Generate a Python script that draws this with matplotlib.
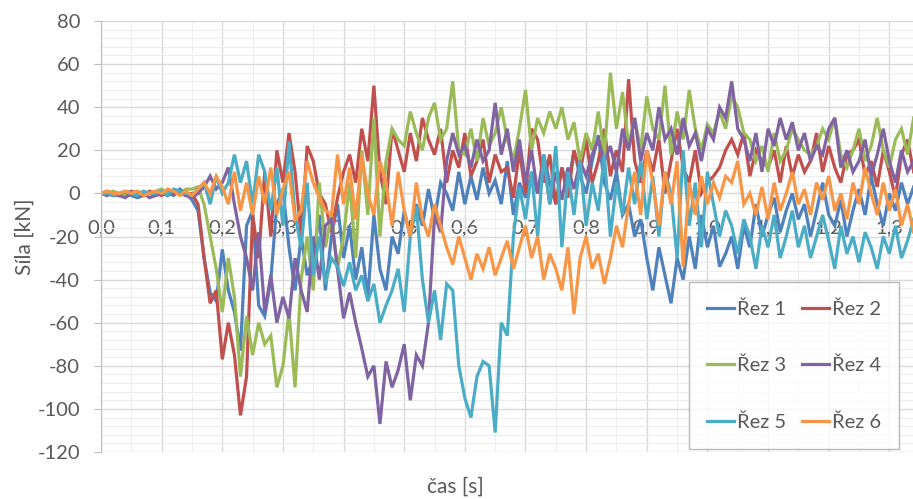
import numpy as np
import matplotlib
matplotlib.use('Agg')
import matplotlib.pyplot as plt
from matplotlib.ticker import MultipleLocator, FuncFormatter

plt.rcParams['font.family'] = ['Lato', 'DejaVu Sans']

# time step 0.01 s
cas = np.round(np.arange(135) * 0.01, 2)

rez1 = [0, 0, -1, -1, 0, -1, -2, -1, 0, -1, 1, 0, -1, 2, 0,
        -3, -8, -30, -46, -50, -26, -45, -55, -73, -15, -8, -52, -57, -40, -5,
        2, -25, -45, -20, -38, -30, -10, -45, -20, -5, -30, -15, -40, -25, -48,
        -10, -35, -45, -20, -28, -8, -20, -5, -15, 2, -12, 5, 0, -8, 10,
        -5, 8, -3, 12, 0, 6, -5, 15, -10, 5, -2, 10, 0, 18, 5,
        -5, 12, 3, 20, 8, 0, 15, 27, 5, -3, 10, -10, -5, -20, -12,
        -30, -45, -25, -38, -51, -30, -40, -20, -35, -10, -25, -15, -34, -28, -20,
        -35, -15, -25, -5, -20, -10, -2, -18, -8, 0, -12, -5, -20, -8, 5,
        -10, -15, -3, -20, -8, 2, -10, 8, -5, -15, 0, -8, 5, -5, 3]

rez2 = [0, 1, 0, -1, 0, 1, 0, -1, 1, 0, -1, 1, 0, 1, -1,
        0, -5, -30, -51, -45, -77, -60, -75, -103, -85, -10, -30, 10, -20, 20,
        5, 28, 10, -20, 22, 15, 0, -5, -18, -2, 10, 18, 5, 30, 15,
        50, 10, -5, 30, 20, 10, 28, 15, 35, 25, 18, 30, 5, 20, 12,
        28, 8, 15, 25, 5, 18, 10, 12, -2, 20, 0, 30, 25, 5, 18,
        -5, 12, -2, 20, 10, 25, 5, 15, 30, 8, 20, 10, 53, 15, 5,
        20, 10, 25, 0, 15, 30, 12, 5, 20, 0, 5, 8, 12, 20, 25,
        18, 28, 8, 20, 15, 12, 20, 5, 22, 8, 18, 10, 15, 28, 10,
        22, 12, 5, 18, 20, 25, 8, 15, 3, 20, 10, -2, 18, 25, 10]

rez3 = [0, 0, 1, 0, -1, 0, 1, 0, 0, 1, 2, 0, 1, 0, 2,
        2, 3, -5, -20, -35, -55, -30, -48, -85, -57, -75, -60, -70, -66, -90,
        -80, -55, -90, -40, -20, -45, 5, -25, -10, -35, -20, 5, -30, 20, -10,
        35, -20, 15, 30, 25, 22, 38, 28, 20, 35, 42, 25, 30, 52, 20,
        18, 30, 15, 35, 22, 28, 40, 25, 15, 30, 48, 20, 35, 28, 38,
        30, 40, 25, 33, 15, 28, 20, 38, 18, 56, 30, 47, 22, 35, 20,
        45, 30, 25, 50, 18, 38, 25, 48, 30, 20, 32, 28, 38, 30, 45,
        40, 28, 25, 15, 22, 10, 28, 15, 20, 30, 25, 20, 18, 22, 30,
        25, 35, 18, 12, 20, 30, 15, 22, 35, 20, 12, 25, 30, 18, 35]

rez4 = [0, -1, 0, -1, -2, 0, -1, 0, -2, -1, 0, -1, 1, 0, -1,
        -2, 0, 3, 8, 2, 5, 12, -5, -20, -30, -45, -18, -55, -38, -60,
        -48, -58, -30, -45, -55, -20, -40, -15, -12, -35, -58, -46, -60, -72, -85,
        -80, -107, -78, -90, -82, -70, -96, -75, -80, -60, -10, -18, 15, 28, 18,
        22, 12, 25, 15, 20, 42, 18, 30, 10, 25, 5, 20, 0, 15, -5,
        10, -3, 12, 2, 15, 8, 18, 25, 15, 22, 10, 30, 20, 35, 15,
        28, 20, 40, 25, 30, 18, 35, 22, 28, 15, 30, 25, 40, 35, 52,
        30, 25, 15, 28, 10, 30, 22, 35, 25, 33, 20, 28, 15, 22, 18,
        30, 35, 12, 20, 10, 15, 25, 8, 18, 30, 15, 5, 20, 10, 15]

rez5 = [0, 0, -1, 0, 1, 0, -1, 1, 0, 0, 1, -1, 2, 1, 0,
        -1, 2, 5, -5, 8, 0, 5, 18, 5, 15, -5, 18, 10, -8, 12,
        -15, 24, -10, -25, 5, -38, -20, -42, -30, -34, -43, -32, -45, -38, -50,
        -42, -60, -52, -45, -35, -55, -20, -6, -40, -60, -45, -68, -42, -45, -80,
        -95, -104, -85, -78, -80, -111, -60, -66, -20, 3, -12, 10, -20, 18, -5,
        22, -25, 10, -10, 15, -15, 5, -8, 18, -20, 5, -10, 12, -5, 15,
        -12, 8, -20, 10, 0, -30, 20, -15, 5, -25, 10, -5, -20, -8, -15,
        -28, -12, -20, -35, -15, -25, -10, -30, -20, -8, -25, -15, -30, -20, -10,
        -22, -35, -15, -28, -20, -32, -18, -25, -35, -20, -28, -15, -30, -22, -12]

rez6 = [0, 1, 0, 0, 1, 0, 1, -1, 0, 1, 0, 2, 1, -1, 1,
        -1, 2, 5, 0, 8, 3, -5, 10, -8, 5, -10, 8, -5, 12, -10,
        2, 10, -12, -8, 15, 5, -2, -8, -10, 18, -5, 12, -12, 18, 0,
        -10, 15, 5, -15, 10, -8, -20, 5, -12, -20, -5, -15, -25, -33, -20,
        -30, -40, -28, -35, -25, -38, -30, -22, -35, -25, -15, -30, -20, -40, -28,
        -35, -45, -25, -56, -30, -20, -35, -28, -42, -30, -15, -25, -5, 10, -10,
        20, 5, -15, 10, -5, 15, -34, 5, -10, 8, -5, 5, -2, 8, 5,
        15, -5, 0, -10, 3, -12, 5, -8, 0, 10, -5, 2, -10, 5, -3,
        8, -8, 0, -12, 5, -5, 12, 0, -10, 5, -8, 2, -15, -5, -18]

nazvy = ['Řez 1', 'Řez 2', 'Řez 3', 'Řez 4', 'Řez 5', 'Řez 6']
barvy = ['#4F81BD', '#C0504D', '#9BBB59', '#8064A2', '#4BACC6', '#F79646']
rady = [rez1, rez2, rez3, rez4, rez5, rez6]

fig = plt.figure(figsize=(9.13, 4.99), dpi=100)
ax = fig.add_axes([101 / 913, 47 / 499, 812 / 913, 431 / 499])

for y, nazev, barva in zip(rady, nazvy, barvy):
    ax.plot(cas, y, color=barva, lw=2.3, label=nazev, solid_joinstyle='miter')

ax.set_xlim(0, 1.339)
ax.set_ylim(-120, 80)
ax.xaxis.set_major_locator(MultipleLocator(0.1))
ax.xaxis.set_minor_locator(MultipleLocator(0.05))
ax.yaxis.set_major_locator(MultipleLocator(20))
ax.yaxis.set_minor_locator(MultipleLocator(4))
ax.xaxis.set_major_formatter(FuncFormatter(lambda v, p: f'{v:.1f}'.replace('.', ',')))
ax.yaxis.set_major_formatter(FuncFormatter(lambda v, p: f'{v:.0f}'))

ax.grid(which='major', color='#D9D9D9', lw=1.0)
ax.grid(which='minor', color='#EDEDED', lw=0.8)
ax.set_axisbelow(True)

for s in ['top', 'right']:
    ax.spines[s].set_visible(False)
ax.spines['left'].set_color('#BFBFBF')
ax.spines['bottom'].set_position(('data', 0))
ax.spines['bottom'].set_color('#D9D9D9')
ax.spines['bottom'].set_zorder(0.6)

ax.tick_params(axis='x', which='both', length=0, pad=19, labelsize=14.5, labelcolor='#595959')
ax.tick_params(axis='y', which='major', length=5, color='#BFBFBF', pad=10,
               labelsize=14.5, labelcolor='#595959')
ax.tick_params(axis='y', which='minor', length=0)

fig.text(25 / 913, 1 - 237 / 499, 'Síla [kN]', rotation=90, ha='center', va='center',
         fontsize=15, color='#595959')
fig.text(455 / 913, 1 - 487 / 499, 'čas [s]', ha='center', va='center',
         fontsize=15, color='#595959')

h, l = ax.get_legend_handles_labels()
poradi = [0, 2, 4, 1, 3, 5]
leg = fig.legend([h[i] for i in poradi], [l[i] for i in poradi], ncol=2,
                 loc='upper left', bbox_to_anchor=(689 / 913, 1 - 282 / 499),
                 borderaxespad=0, fontsize=14.5, frameon=True, fancybox=False,
                 edgecolor='#A6A6A6', handlelength=1.35, handletextpad=0.15,
                 columnspacing=0.75, labelspacing=1.95, borderpad=0.9)
leg.get_frame().set_linewidth(1.0)
for t in leg.get_texts():
    t.set_color('#595959')

fig.savefig('out.png', dpi=100)
